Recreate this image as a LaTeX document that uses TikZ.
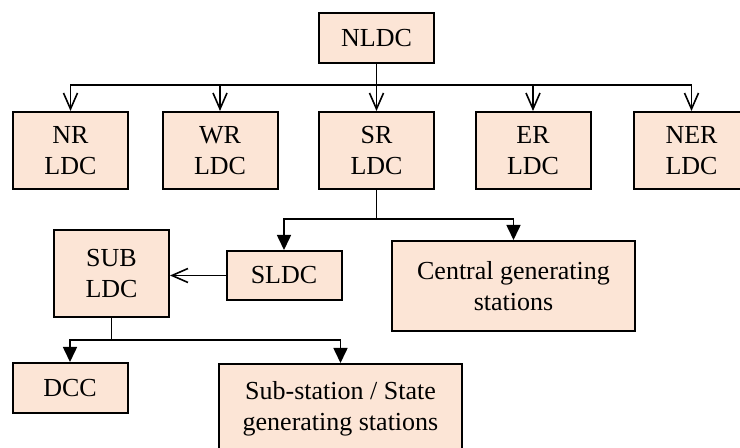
\documentclass[tikz,border=0pt]{standalone}
\usepackage{fontspec}
\setmainfont{Liberation Serif}
\usepackage{xcolor}
\usetikzlibrary{arrows.meta}
\definecolor{peach}{RGB}{252,229,214}

\begin{document}
\begin{tikzpicture}[x=0.5pt,y=-0.5pt,
    box/.style={rectangle, draw, fill=peach, line width=1pt, align=center,
      font=\fontsize{13}{15.5}\selectfont, minimum width=57.5pt, minimum height=#1, inner sep=1pt},
    box/.default=25pt,
    wide/.style={box=#1, minimum width=121.5pt},
    openarrow/.style={-{Straight Barb[length=8pt,width=7pt]}, line width=0.8pt},
    fullarrow/.style={-{Triangle[length=7.5pt,width=7pt]}, line width=0.8pt}]
      \useasboundingbox (0,0) rectangle (740,448);
      % top level
      \node (nldc) [box] at (376.5,38) {NLDC};
      % regional centres
      \node (nr) [box=38.5pt] at (70.5,150.5) {NR\\LDC};
      \node (wr) [box=38.5pt] at (220,150.5) {WR\\LDC};
      \node (sr) [box=38.5pt] at (376.5,150.5) {SR\\LDC};
      \node (er) [box=38.5pt] at (533,150.5) {ER\\LDC};
      \node (ner) [box=38.5pt] at (691.5,150.5) {NER\\LDC};
      \coordinate (bus1) at (376.5,85);
      \draw[line width=0.8pt] (nldc.south) -- (bus1);
      \foreach \n in {nr,wr,sr,er,ner}
        \draw[openarrow] (bus1) -| (\n.north);
      % below SR
      \node (sldc) [box=24.5pt] at (284,275.5) {SLDC};
      \node (central) [wide=45pt] at (513.5,286) {Central generating\\stations};
      \node (sub) [box=43.5pt] at (111.5,273.5) {SUB\\LDC};
      \coordinate (bus2) at (376.5,219);
      \draw[line width=0.8pt] (sr.south) -- (bus2);
      \draw[fullarrow] (bus2) -| (sldc.north);
      \draw[fullarrow] (bus2) -| (central.north);
      \draw[openarrow] (sldc.west) -- (sldc.west -| sub.east);
      % below SUB LDC
      \node (dcc) [box] at (70,388) {DCC};
      \node (subst) [wide=45pt] at (340.5,409) {Sub-station / State\\generating stations};
      \coordinate (bus3) at (111.5,340);
      \draw[line width=0.8pt] (sub.south) -- (bus3);
      \draw[fullarrow] (bus3) -| (dcc.north);
      \draw[fullarrow] (bus3) -| (subst.north);
    \end{tikzpicture}
\end{document}
